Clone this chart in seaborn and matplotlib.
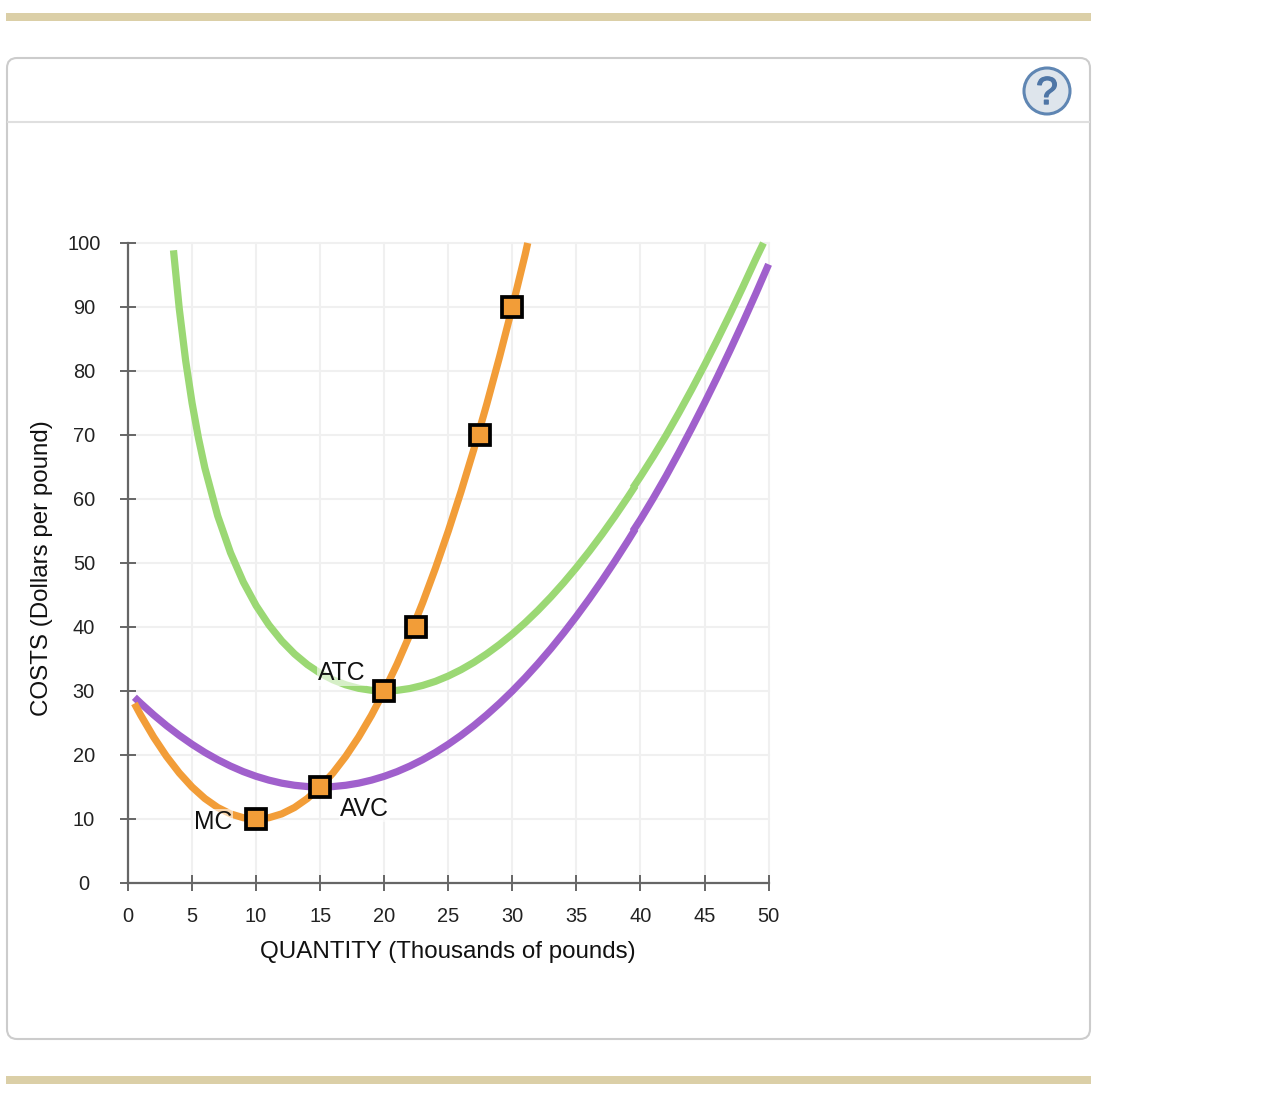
# curvas de costos con seaborn

import pandas as pd
import seaborn as sns
import matplotlib.pyplot as plt
import matplotlib.patheffects as pe
from matplotlib.patches import Circle, FancyBboxPatch, Rectangle

# datos

mc_x = [0.5, 1, 2, 3, 4, 5, 6, 7, 8, 9, 10, 11, 12, 13, 14, 15, 16, 17, 18, 19, 20,
        21, 22, 23, 24, 25, 26, 27, 28, 29, 30, 31, 31.2]
mc_y = [28.05, 26.2, 22.8, 19.8, 17.2, 15, 13.2, 11.8, 10.8, 10.2, 10, 10.2, 10.8, 11.8,
        13.2, 15, 17.2, 19.8, 22.8, 26.2, 30, 34.2, 38.8, 43.8, 49.2, 55, 61.2, 67.8,
        74.8, 82.2, 90, 98.2, 100]

atc_x1 = [3.55, 4, 4.5, 5, 5.5, 6, 7, 8, 9, 10, 11, 12, 13, 14, 15, 16, 17, 18, 19, 20,
          21, 22, 23, 24, 25, 26, 27, 28, 29, 30, 31, 32, 33, 34, 35, 36, 37, 38, 39, 39.6]
atc_y1 = [98.86, 89.75, 81.62, 75.01, 69.51, 64.85, 57.37, 51.61, 47.03, 43.34, 40.32,
          37.83, 35.79, 34.12, 32.78, 31.74, 30.96, 30.42, 30.11, 30.01, 30.1, 30.39,
          30.87, 31.51, 32.34, 33.33, 34.48, 35.8, 37.27, 38.89, 40.67, 42.6, 44.68,
          46.91, 49.29, 51.81, 54.48, 57.29, 60.24, 62.07]
atc_x2 = [39.4, 40, 41, 42, 43, 44, 45, 46, 47, 48, 49, 49.6]
atc_y2 = [61.71, 63.5, 66.65, 69.95, 73.47, 77.13, 80.93, 84.87, 88.94, 93.16, 97.51, 100]

avc_x1 = [0.5, 1, 2, 3, 4, 5, 6, 7, 8, 9, 10, 11, 12, 13, 14, 15, 16, 17, 18, 19, 20,
          21, 22, 23, 24, 25, 26, 27, 28, 29, 30, 31, 32, 33, 34, 35, 36, 37, 38, 39, 39.6]
avc_y1 = [29.02, 28.07, 26.27, 24.6, 23.07, 21.67, 20.4, 19.27, 18.27, 17.4, 16.67, 16.07,
          15.6, 15.27, 15.07, 15, 15.07, 15.27, 15.6, 16.07, 16.67, 17.4, 18.27, 19.27,
          20.4, 21.67, 23.07, 24.6, 26.27, 28.07, 30, 32.07, 34.27, 36.6, 39.07, 41.67,
          44.4, 47.27, 50.27, 53.4, 55.34]
avc_x2 = [39.4, 40, 41, 42, 43, 44, 45, 46, 47, 48, 49, 50]
avc_y2 = [54.95, 56.8, 60.12, 63.6, 67.27, 71.07, 75, 79.07, 83.27, 87.6, 92.07, 96.67]

punto_x = [10, 15, 20, 22.5, 27.5, 30]
punto_y = [10, 15, 30, 40, 70, 90]

etiquetas = ["ATC", "AVC", "MC"]
etiqueta_x = [16.65, 18.45, 6.62]
etiqueta_y = [32.85, 11.55, 9.6]

x_ticks = [0, 5, 10, 15, 20, 25, 30, 35, 40, 45, 50]
y_ticks = [0, 10, 20, 30, 40, 50, 60, 70, 80, 90, 100]

# colores

naranja = "#F29D38"
verde = "#9BD874"
morado = "#A060CC"

sns.set_style("white")
plt.rcParams["font.family"] = ["Liberation Sans", "DejaVu Sans"]

fig = plt.figure(figsize=(12.66, 11.02), dpi=100)

# marco de la pagina en pixeles

fondo = fig.add_axes([0, 0, 1, 1], zorder=0)
fondo.set_xlim(0, 1266)
fondo.set_ylim(1102, 0)
fondo.axis("off")

fondo.add_patch(Rectangle((6, 13), 1085, 8, color="#DBCFA7", lw=0))
fondo.add_patch(Rectangle((6, 1076), 1085, 8, color="#DBCFA7", lw=0))
fondo.add_patch(FancyBboxPatch((7, 58), 1083, 981, boxstyle="round,pad=0,rounding_size=10",
                               fc="white", ec="#CCCCCC", lw=1.5))
fondo.plot([8, 1089], [122, 122], color="#DFDFDF", lw=1.5)
fondo.add_patch(Circle((1047, 91), 23, fc="#DEE5EC", ec="#5F86B3", lw=2.2))
fondo.text(1047, 104, "?", color="#4F76A6", fontsize=28, ha="center", va="baseline",
           path_effects=[pe.withStroke(linewidth=1, foreground="#4F76A6")])

# grafica principal

ax = fig.add_axes([128 / 1266, (1102 - 883) / 1102, 640.6 / 1266, 640 / 1102], zorder=1)
ax.patch.set_alpha(0)

curvas = [
    (atc_x1, atc_y1, verde),
    (atc_x2, atc_y2, verde),
    (avc_x1, avc_y1, morado),
    (avc_x2, avc_y2, morado),
    (mc_x, mc_y, naranja),
]
for xs, ys, color in curvas:
    df_curva = pd.DataFrame({"x": xs, "y": ys})
    sns.lineplot(data=df_curva, x="x", y="y", color=color, linewidth=5.2, sort=False,
                 estimator=None, ax=ax, clip_on=False, solid_capstyle="butt",
                 solid_joinstyle="round", zorder=3)

df_puntos = pd.DataFrame({"x": punto_x, "y": punto_y})
sns.scatterplot(data=df_puntos, x="x", y="y", marker="s", s=222, color=naranja,
                edgecolor="black", linewidth=2.7, ax=ax, clip_on=False, zorder=5)
ax.collections[-1].set_joinstyle("miter")

for nombre, ex, ey in zip(etiquetas, etiqueta_x, etiqueta_y):
    ax.text(ex, ey, nombre, fontsize=17.8, color="#111111", ha="center", va="center", zorder=4,
            bbox=dict(fc="white", ec="none", alpha=0.6, pad=0.5))

ax.set_xlim(0, 50)
ax.set_ylim(0, 100)
ax.set_xticks(x_ticks)
ax.set_yticks(y_ticks)

ax.grid(True, color="#F0F0F0", linewidth=1.5)
ax.set_axisbelow(True)
for linea in ax.get_xgridlines() + ax.get_ygridlines():
    linea.set_clip_on(False)
for lado in ["top", "right"]:
    ax.spines[lado].set_visible(False)
for lado in ["left", "bottom"]:
    ax.spines[lado].set_color("#666666")
    ax.spines[lado].set_linewidth(1.6)

ax.tick_params(axis="both", which="major", direction="inout", length=11.5, width=1.4,
               color="#666666", labelsize=14.4, labelcolor="#222222", bottom=True, left=True)
ax.tick_params(axis="x", pad=11.6)
ax.tick_params(axis="y", pad=26)
for etiqueta in ax.get_yticklabels():
    etiqueta.set_ha("center")

ax.set_xlabel("QUANTITY (Thousands of pounds)", fontsize=17.35, color="#111111", va="center")
ax.set_ylabel("COSTS (Dollars per pound)", fontsize=17.4, color="#111111", va="center")
ax.xaxis.set_label_coords(0.5, (883 - 952) / 640, transform=ax.transAxes)
ax.yaxis.set_label_coords((42 - 128) / 641, (883 - 568) / 640, transform=ax.transAxes)

fig.savefig("out.png", dpi=100, facecolor="white")
